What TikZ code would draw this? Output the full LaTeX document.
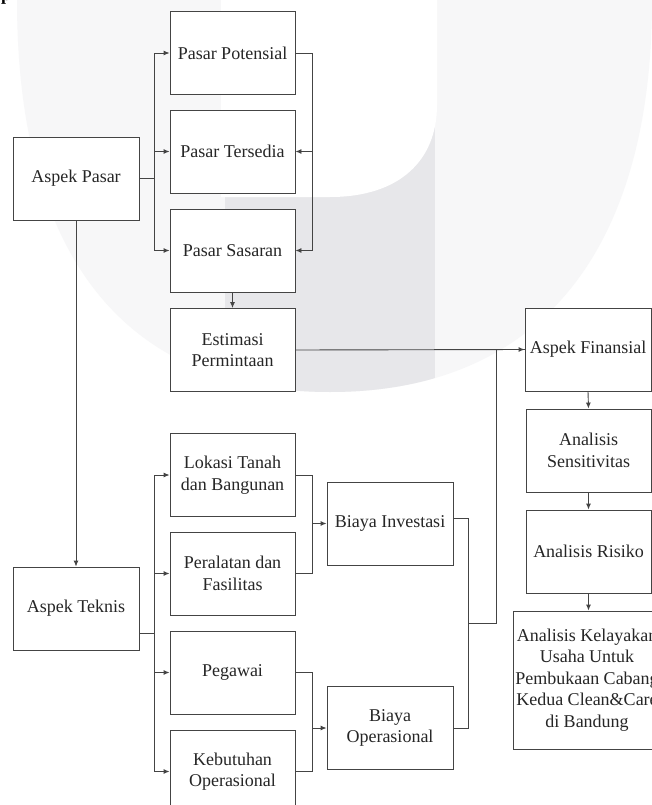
\documentclass[tikz,border=0pt]{standalone}
\usepackage{fontspec}
\setmainfont{Liberation Serif}
\usetikzlibrary{arrows.meta}
\definecolor{wmlight}{RGB}{247,247,248}
\definecolor{wmdark}{RGB}{231,231,234}
\definecolor{lineclr}{RGB}{68,68,68}
\tikzset{
  box/.style={draw=lineclr, line width=0.9pt, fill=white, minimum width=125pt,
    minimum height=83pt, align=center, inner sep=2pt, text=black!85,
    font=\fontsize{18}{21.5}\selectfont},
  conn/.style={draw=lineclr, line width=0.9pt},
  arr/.style={conn, -{Latex[length=6pt,width=5pt]}}
}
\begin{document}
\begin{tikzpicture}[x=1pt,y=-1pt]
    \fill[white] (0,0) rectangle (652,805);
    \useasboundingbox (0,0) rectangle (652,805);
    % watermark
    \fill[wmlight] (17,0) .. controls (17,250) and (120,392) .. (330,392)
      .. controls (540,392) and (652,250) .. (652,0) -- cycle;
    \begin{scope}
      \clip (17,0) .. controls (17,250) and (120,392) .. (330,392)
        .. controls (540,392) and (652,250) .. (652,0) -- cycle;
      \fill[wmdark] (225,110) rectangle (435,400);
    \end{scope}
    \fill[white] (221,0) -- (221,197) -- (330,197)
      .. controls (400,197) and (437,160) .. (437,105) -- (437,0) -- cycle;
    \node[font=\bfseries\fontsize{18}{18}\selectfont, anchor=base west, inner sep=0pt] (pageText) at (1,1) {p};
    % market
    \node[box, minimum width=126pt] (aspekPasar) at (76,178.5) {Aspek Pasar};
    \node[box] (potensial) at (232.5,53) {Pasar Potensial};
    \node[box] (tersedia) at (232.5,151.5) {Pasar Tersedia};
    \node[box] (sasaran) at (232.5,250.5) {Pasar Sasaran};
    \node[box] (estimasi) at (232.5,350) {Estimasi\\Permintaan};
    % technical
    \node[box, minimum width=126pt] (aspekTeknis) at (76,608.5) {Aspek Teknis};
    \node[box] (lokasi) at (232.5,475) {Lokasi Tanah\\dan Bangunan};
    \node[box] (peralatan) at (232.5,573.5) {Peralatan dan\\Fasilitas};
    \node[box] (pegawai) at (232.5,672.5) {Pegawai};
    \node[box] (kebutuhan) at (232.5,771.5) {Kebutuhan\\Operasional};
    \node[box, minimum width=126pt] (biayaInvestasi) at (390,523.5) {Biaya Investasi};
    \node[box, minimum width=126pt] (biayaOperasional) at (390,728) {Biaya\\Operasional};
    % financial
    \node[box, minimum width=126pt] (aspekFinansial) at (588,349.5) {Aspek Finansial};
    \node[box] (sensitivitas) at (588.5,450.5) {Analisis\\Sensitivitas};
    \node[box] (risiko) at (588.5,551.5) {Analisis Risiko};
    \node[box, minimum width=146pt, minimum height=138pt] (kelayakan) at (587,680)
      {Analisis Kelayakan\\Usaha Untuk\\Pembukaan Cabang\\Kedua Clean\&Care\\di Bandung};
    % connectors
    \foreach \n in {potensial,tersedia,sasaran}
      \draw[arr] (aspekPasar.east) -- ++(15,0) |- (\n.west);
    \draw[arr] (potensial.east) -- ++(17,0) |- (tersedia.east);
    \draw[arr] (potensial.east) -- ++(17,0) |- (sasaran.east);
    \draw[arr] (sasaran.south) -- (estimasi.north);
    \draw[arr] (estimasi.east) -- (aspekFinansial.west);
    \draw[arr] (aspekPasar.south) -- (aspekTeknis.north);
    \coordinate (tekOut) at (139,633);
    \foreach \n in {lokasi,peralatan,pegawai,kebutuhan}
      \draw[arr] (tekOut) -- ++(15,0) |- (\n.west);
    \draw[conn] (lokasi.east) -- ++(17,0) coordinate (invBus) |- (peralatan.east);
    \draw[arr] (invBus |- biayaInvestasi.west) -- (biayaInvestasi.west);
    \draw[conn] (pegawai.east) -- ++(17,0) coordinate (opBus) |- (kebutuhan.east);
    \draw[arr] (opBus |- biayaOperasional.west) -- (biayaOperasional.west);
    \coordinate (invOut) at (453,518);
    \draw[conn] (invOut) -- ++(15,0) coordinate (finBus) |- (biayaOperasional.east);
    \coordinate (finJoin) at (468,623);
    \draw[conn] (finJoin) -- ++(28,0) |- (aspekFinansial.west);
    \draw[arr] (aspekFinansial.south) -- (sensitivitas.north);
    \draw[arr] (sensitivitas.south) -- (risiko.north);
    \draw[arr] (risiko.south) -- (risiko.south |- kelayakan.north);
\end{tikzpicture}
\end{document}
